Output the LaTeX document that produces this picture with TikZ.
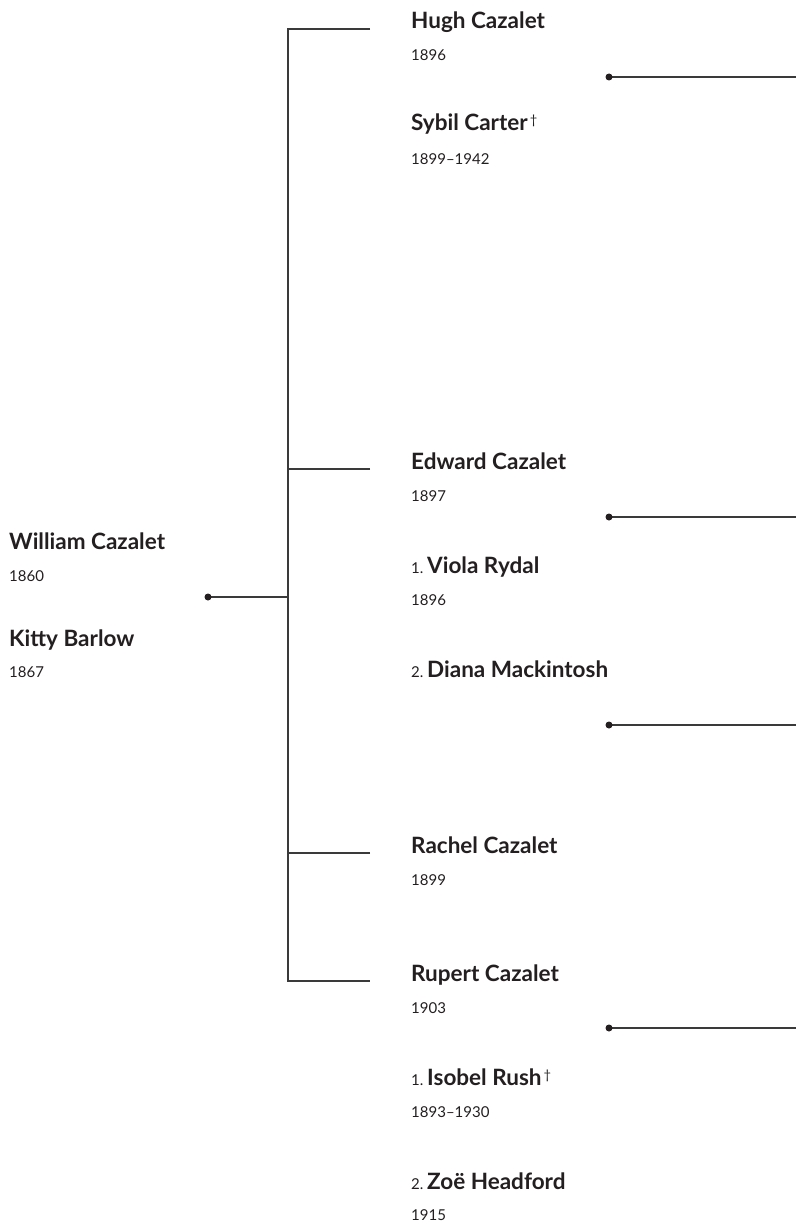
\documentclass[tikz,border=0pt]{standalone}
\usepackage{fontspec}
\setmainfont{Lato}
\usetikzlibrary{positioning}
\definecolor{ink}{HTML}{231F20}
\definecolor{rule}{HTML}{3A3A3A}
\newcommand{\deceased}{\raisebox{6pt}{\mdseries\fontsize{13}{13}\selectfont\,†}}
\newcommand{\wedno}[1]{{\mdseries\fontsize{15}{18}\selectfont #1.}\,}
\tikzset{
  person/.style={anchor=base west, inner sep=0pt, text=ink, font=\fontsize{22.5}{26}\selectfont\bfseries},
  lifespan/.style={anchor=base west, inner sep=0pt, text=ink, font=\fontsize{15}{18}\selectfont},
  link/.style={draw=rule, line width=1.3pt},
  knot/.style={fill=ink, radius=3.5pt}
}
\begin{document}
\begin{tikzpicture}[x=1pt, y=-1pt]
        \useasboundingbox (0,0) rectangle (796,1225);

        % parents
        \node[person] (william) at (9, 549) {William Cazalet};
        \node[lifespan] (williamyr) at (9, 581) {1860};
        \node[person] (kitty) at (9, 646) {Kitty Barlow};
        \node[lifespan] (kittyyr) at (9, 677) {1867};

        % children and spouses
        \node[person] (hugh) at (411, 29) {Hugh Cazalet};
        \node[lifespan] (hughyr) at (411, 61) {1896};
        \node[person] (sybil) at (411, 131) {Sybil Carter\deceased};
        \node[lifespan] (sybilyr) at (411, 165) {1899–1942};

        \node[person] (edward) at (411, 469) {Edward Cazalet};
        \node[lifespan] (edwardyr) at (411, 501) {1897};
        \node[person] (viola) at (411, 573) {\wedno{1}Viola Rydal};
        \node[lifespan] (violayr) at (411, 605) {1896};
        \node[person] (diana) at (411, 677) {\wedno{2}Diana Mackintosh};

        \node[person] (rachel) at (411, 853) {Rachel Cazalet};
        \node[lifespan] (rachelyr) at (411, 885) {1899};

        \node[person] (rupert) at (411, 981) {Rupert Cazalet};
        \node[lifespan] (rupertyr) at (411, 1013) {1903};
        \node[person] (isobel) at (411, 1085) {\wedno{1}Isobel Rush\deceased};
        \node[lifespan] (isobelyr) at (411, 1117) {1893–1930};
        \node[person] (zoe) at (411, 1189) {\wedno{2}Zoë Headford};
        \node[lifespan] (zoeyr) at (411, 1220) {1915};

        % couple knots
        \coordinate (wk) at (208, 597);
        \coordinate (hs) at (609, 77);
        \coordinate (ev) at (609, 517);
        \coordinate (ed) at (609, 725);
        \coordinate (ri) at (609, 1028);
        \coordinate (edge) at (796, 0);

        % spine
        \coordinate (spinetop) at (288, 29);
        \coordinate (spinebot) at (288, 981);
        \coordinate (hughb) at (370, 29);
        \coordinate (edwardb) at (370, 469);
        \coordinate (rachelb) at (370, 853);
        \coordinate (rupertb) at (370, 981);

        \draw[link] (wk) -- (wk -| spinetop);
        \draw[link] (hughb) -- (spinetop) -- (spinebot) -- (rupertb);
        \draw[link] (edwardb) -- (edwardb -| spinetop);
        \draw[link] (rachelb) -- (rachelb -| spinetop);

        \draw[link] (hs) -- (hs -| edge);
        \draw[link] (ev) -- (ev -| edge);
        \draw[link] (ed) -- (ed -| edge);
        \draw[link] (ri) -- (ri -| edge);

        \fill[knot] (wk) circle;
        \fill[knot] (hs) circle;
        \fill[knot] (ev) circle;
        \fill[knot] (ed) circle;
        \fill[knot] (ri) circle;
    \end{tikzpicture}
\end{document}
